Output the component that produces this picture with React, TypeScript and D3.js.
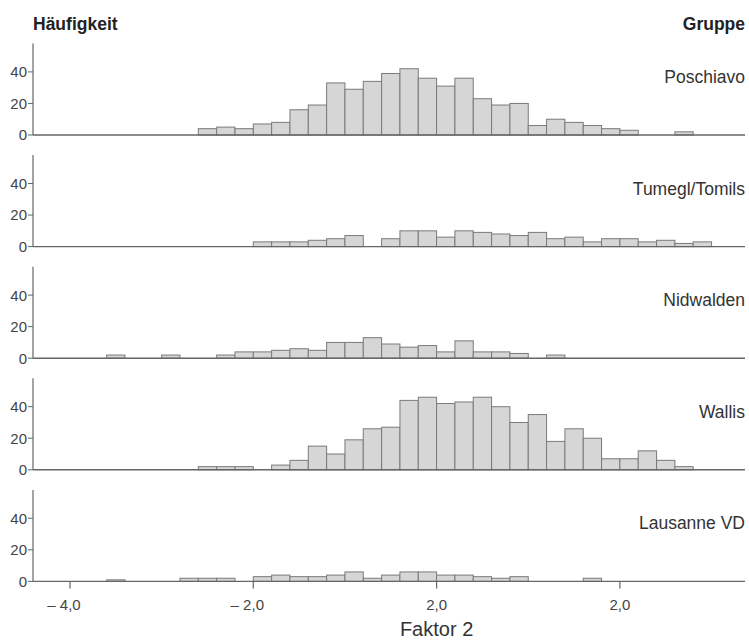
import React from "react";
import { scaleLinear, range } from "d3";

// bins of width 0.2 starting at -4,0 (35 bins up to 3,0)
const binStart = -4.0;
const binWidth = 0.2;

const groups = ["Poschiavo", "Tumegl/Tomils", "Nidwalden", "Wallis", "Lausanne VD"];

const poschiavo = [0, 0, 0, 0, 0, 0, 0, 4, 5, 4, 7, 8, 16, 19, 33, 29, 34, 39, 42, 36, 31, 36, 23, 19, 20, 6, 10, 8, 6, 4, 3, 0, 0, 2, 0];
const tumegl = [0, 0, 0, 0, 0, 0, 0, 0, 0, 0, 3, 3, 3, 4, 5, 7, 0, 5, 10, 10, 6, 10, 9, 8, 7, 9, 5, 6, 3, 5, 5, 3, 4, 2, 3];
const nidwalden = [0, 0, 2, 0, 0, 2, 0, 0, 2, 4, 4, 5, 6, 5, 10, 10, 13, 9, 7, 8, 4, 11, 4, 4, 3, 0, 2, 0, 0, 0, 0, 0, 0, 0, 0];
const wallis = [0, 0, 0, 0, 0, 0, 0, 2, 2, 2, 0, 3, 6, 15, 10, 19, 26, 27, 44, 46, 42, 43, 46, 40, 30, 35, 18, 26, 20, 7, 7, 12, 6, 2, 0];
const lausanne = [0, 0, 1, 0, 0, 0, 2, 2, 2, 0, 3, 4, 3, 3, 4, 6, 2, 4, 6, 6, 4, 4, 3, 2, 3, 0, 0, 0, 2, 0, 0, 0, 0, 0, 0];

const series = [poschiavo, tumegl, nidwalden, wallis, lausanne];

const yTicks = [0, 20, 40];
const xTicks = [-4, -2, 0, 2];
// as printed in the figure
const xTickLabels = ["\u2013 4,0", "\u2013 2,0", "2,0", "2,0"];

const width = 749;
const height = 642;
const axisX = 33;
const rightX = 745;
const firstZero = 135;
const panelStep = 111.6;
const panelHeight = 91.5;

const font = "'Liberation Sans', Arial, sans-serif";

export default function App() {
  const x = scaleLinear().domain([-4, 2]).range([70, 619.9]);
  const y = scaleLinear().domain([0, 58]).range([panelHeight, 0]);
  const lastZero = firstZero + 4 * panelStep;

  return (
    <svg
      width={width}
      height={height}
      style={{ position: "absolute", left: 0, top: 0, background: "#fff" }}
      fontFamily={font}
    >
      <text x={axisX} y={29.5} fontSize={17.5} fontWeight="bold" fill="#222">
        Häufigkeit
      </text>
      <text x={rightX} y={29.5} fontSize={17.5} fontWeight="bold" fill="#222" textAnchor="end">
        Gruppe
      </text>

      {series.map((counts, gi) => {
        const zero = firstZero + gi * panelStep;
        return (
          <g key={groups[gi]} transform={`translate(0, ${zero - panelHeight})`}>
            {range(counts.length).map((j) => {
              const c = counts[j];
              if (!c) return null;
              const x0 = x(binStart + j * binWidth);
              const x1 = x(binStart + (j + 1) * binWidth);
              return (
                <rect
                  key={j}
                  x={x0}
                  y={y(c)}
                  width={x1 - x0}
                  height={y(0) - y(c)}
                  fill="#d6d6d6"
                  stroke="#7a7a7a"
                  strokeWidth={1}
                />
              );
            })}
            <line x1={axisX} x2={axisX} y1={0} y2={y(0)} stroke="#666" strokeWidth={1.2} />
            <line x1={axisX} x2={rightX} y1={y(0)} y2={y(0)} stroke="#666" strokeWidth={1.4} />
            {yTicks.map((t) => (
              <g key={t} transform={`translate(0, ${y(t)})`}>
                <line x1={axisX - 5} x2={axisX} stroke="#666" strokeWidth={1} />
                <text x={axisX - 6} dy="0.36em" fontSize={15} fill="#444" textAnchor="end">
                  {t}
                </text>
              </g>
            ))}
            <text x={rightX} y={y(0) - 52} fontSize={17.5} fill="#333" textAnchor="end">
              {groups[gi]}
            </text>
          </g>
        );
      })}

      {xTicks.map((t, i) => (
        <g key={t} transform={`translate(${x(t)}, ${lastZero})`}>
          <line y1={0} y2={7} stroke="#666" strokeWidth={1.2} />
          <text
            y={29}
            dx={t < 0 ? -6 : 0}
            fontSize={15}
            fill="#444"
            textAnchor="middle"
          >
            {xTickLabels[i]}
          </text>
        </g>
      ))}
      <text x={x(0)} y={636} fontSize={20} fill="#333" textAnchor="middle">
        Faktor 2
      </text>
    </svg>
  );
}
